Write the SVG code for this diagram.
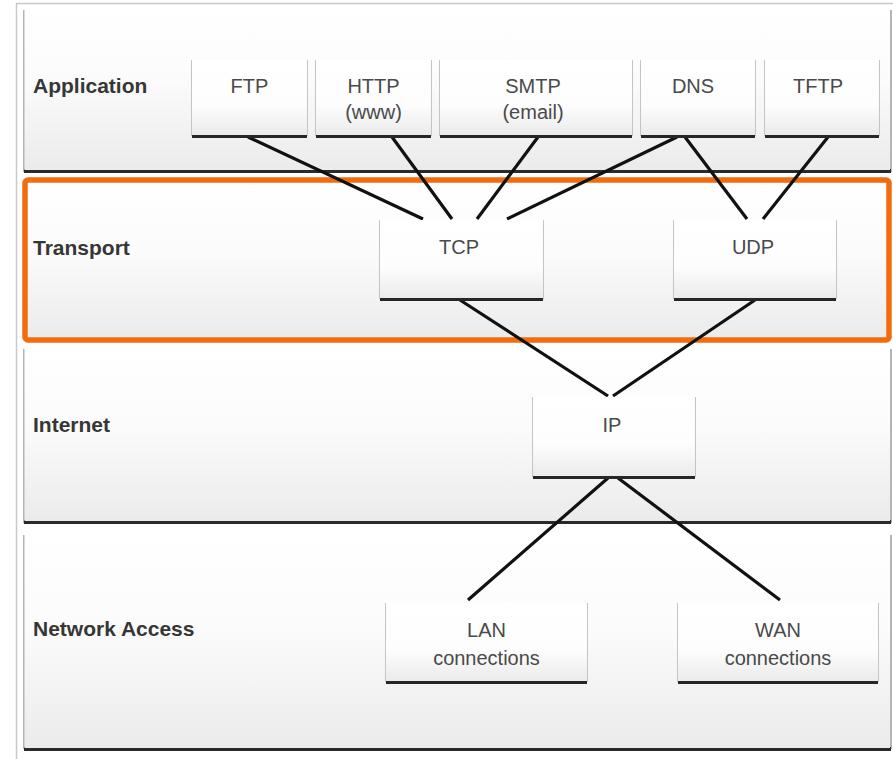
<svg xmlns="http://www.w3.org/2000/svg" width="893" height="759" viewBox="0 0 893 759">
  <defs>
    <linearGradient id="panelFill" x1="0" y1="0" x2="0" y2="1">
      <stop offset="0" stop-color="#ffffff"/>
      <stop offset="0.45" stop-color="#fbfbfb"/>
      <stop offset="1" stop-color="#ebebeb"/>
    </linearGradient>
    <linearGradient id="boxFill" x1="0" y1="0" x2="0" y2="1">
      <stop offset="0" stop-color="#ffffff"/>
      <stop offset="0.6" stop-color="#fdfdfd"/>
      <stop offset="1" stop-color="#ebebeb"/>
    </linearGradient>
    <filter id="soft" x="-5%" y="-50%" width="110%" height="200%">
      <feGaussianBlur stdDeviation="0.7"/>
    </filter>
  </defs>
  <style>
    .frame { fill: #ffffff; stroke: #c9c9c9; stroke-width: 1.5; }
    .panel { fill: url(#panelFill); }
    .pedge { fill: #b5b5b5; }
    .pbase { fill: #2b2b2b; filter: url(#soft); }
    .box { fill: url(#boxFill); }
    .bedge { fill: #c4c4c4; filter: url(#soft); }
    .bbase { fill: #262626; filter: url(#soft); }
    .layer { font-family: "Liberation Sans", Arial, sans-serif; font-size: 21px; font-weight: bold; fill: #363636; }
    .lbl { font-family: "Liberation Sans", Arial, sans-serif; font-size: 20px; fill: #4a4a4a; text-anchor: middle; }
    .link { stroke: #111111; stroke-width: 3.2; fill: none; }
    .focus { fill: none; stroke: #f26b0e; stroke-width: 5.5; }
  </style>

  <rect class="frame" x="16.5" y="3.5" width="900" height="780"/>

  <!-- layer bands -->
  <g id="layer-application">
    <rect class="pedge" x="23" y="10" width="869" height="162"/>
    <rect class="pbase" x="24" y="169" width="867" height="4"/>
    <rect class="panel" x="24.5" y="10" width="865.5" height="160"/>
    <text class="layer" x="33" y="93">Application</text>
  </g>
  <g id="layer-transport">
    <rect class="panel" x="25" y="180" width="864" height="160"/>
    <text class="layer" x="33" y="255">Transport</text>
  </g>
  <g id="layer-internet">
    <rect class="pedge" x="23" y="349" width="869" height="174"/>
    <rect class="pbase" x="24" y="520" width="867" height="4"/>
    <rect class="panel" x="24.5" y="349" width="865.5" height="172"/>
    <text class="layer" x="33" y="432">Internet</text>
  </g>
  <g id="layer-network-access">
    <rect class="pedge" x="23" y="535" width="869" height="214"/>
    <rect class="pbase" x="24" y="747" width="867" height="4"/>
    <rect class="panel" x="24.5" y="535" width="865.5" height="213"/>
    <text class="layer" x="33" y="636">Network Access</text>
  </g>

  <!-- highlight around the transport layer -->
  <rect id="transport-highlight" class="focus" x="25" y="180" width="864" height="160" rx="3"/>

  <!-- connectors -->
  <g id="connectors">
    <line class="link" x1="248" y1="137" x2="423" y2="219"/>
    <line class="link" x1="392" y1="137" x2="452" y2="219"/>
    <line class="link" x1="538" y1="137" x2="477" y2="219"/>
    <line class="link" x1="677" y1="137" x2="507" y2="219"/>
    <line class="link" x1="685" y1="137" x2="747" y2="219"/>
    <line class="link" x1="828" y1="137" x2="763" y2="219"/>
    <line class="link" x1="460" y1="300" x2="608" y2="396"/>
    <line class="link" x1="755" y1="300" x2="613" y2="396"/>
    <line class="link" x1="608" y1="478" x2="468" y2="600"/>
    <line class="link" x1="618" y1="478" x2="780" y2="600"/>
  </g>

  <!-- application protocols -->
  <g id="ftp">
    <rect class="bedge" x="191" y="60" width="117" height="76"/>
    <rect class="bbase" x="192" y="134" width="115" height="4"/>
    <rect class="box" x="192" y="60" width="115" height="75"/>
    <text class="lbl" x="249.5" y="93">FTP</text>
  </g>
  <g id="http">
    <rect class="bedge" x="315" y="60" width="117" height="76"/>
    <rect class="bbase" x="316" y="134" width="115" height="4"/>
    <rect class="box" x="316" y="60" width="115" height="75"/>
    <text class="lbl" x="373.5" y="93">HTTP</text>
    <text class="lbl" x="373.5" y="119">(www)</text>
  </g>
  <g id="smtp">
    <rect class="bedge" x="439" y="60" width="194" height="76"/>
    <rect class="bbase" x="440" y="134" width="192" height="4"/>
    <rect class="box" x="440" y="60" width="192" height="75"/>
    <text class="lbl" x="533" y="93">SMTP</text>
    <text class="lbl" x="533" y="119">(email)</text>
  </g>
  <g id="dns">
    <rect class="bedge" x="640" y="60" width="116" height="76"/>
    <rect class="bbase" x="641" y="134" width="114" height="4"/>
    <rect class="box" x="641" y="60" width="114" height="75"/>
    <text class="lbl" x="693" y="93">DNS</text>
  </g>
  <g id="tftp">
    <rect class="bedge" x="764" y="60" width="116" height="76"/>
    <rect class="bbase" x="765" y="134" width="114" height="4"/>
    <rect class="box" x="765" y="60" width="114" height="75"/>
    <text class="lbl" x="818" y="93">TFTP</text>
  </g>

  <!-- transport protocols -->
  <g id="tcp">
    <rect class="bedge" x="379" y="220" width="165" height="79"/>
    <rect class="bbase" x="380" y="297" width="163" height="4"/>
    <rect class="box" x="380" y="220" width="163" height="78"/>
    <text class="lbl" x="459" y="254">TCP</text>
  </g>
  <g id="udp">
    <rect class="bedge" x="673" y="220" width="164" height="79"/>
    <rect class="bbase" x="674" y="297" width="162" height="4"/>
    <rect class="box" x="674" y="220" width="162" height="78"/>
    <text class="lbl" x="753" y="254">UDP</text>
  </g>

  <!-- internet layer -->
  <g id="ip">
    <rect class="bedge" x="532" y="397" width="164" height="80"/>
    <rect class="bbase" x="533" y="475" width="162" height="4"/>
    <rect class="box" x="533" y="397" width="162" height="79"/>
    <text class="lbl" x="612" y="432">IP</text>
  </g>

  <!-- network access -->
  <g id="lan">
    <rect class="bedge" x="385" y="603" width="203" height="79"/>
    <rect class="bbase" x="386" y="680" width="201" height="4"/>
    <rect class="box" x="386" y="603" width="201" height="78"/>
    <text class="lbl" x="486.5" y="637">LAN</text>
    <text class="lbl" x="486.5" y="665">connections</text>
  </g>
  <g id="wan">
    <rect class="bedge" x="677" y="603" width="202" height="79"/>
    <rect class="bbase" x="678" y="680" width="200" height="4"/>
    <rect class="box" x="678" y="603" width="200" height="78"/>
    <text class="lbl" x="778" y="637">WAN</text>
    <text class="lbl" x="778" y="665">connections</text>
  </g>
</svg>
